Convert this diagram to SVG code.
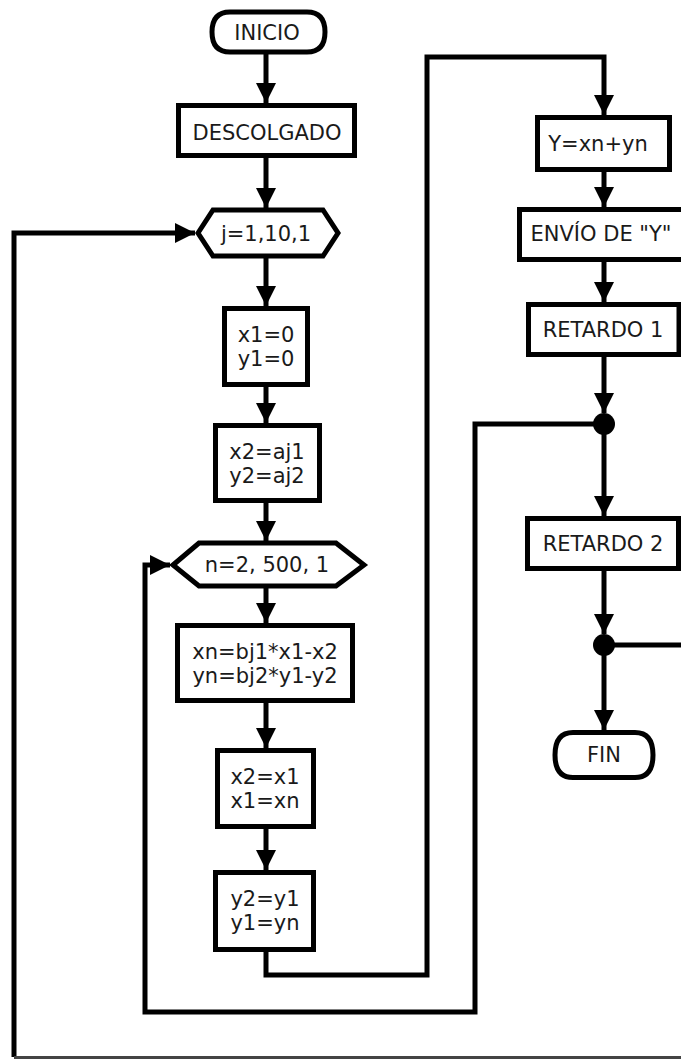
<svg xmlns="http://www.w3.org/2000/svg" width="681" height="1059" viewBox="0 0 681 1059">
<style>
.s{fill:#fff;stroke:#000;stroke-width:5}
.t{font-family:"DejaVu Sans",sans-serif;font-size:21px;fill:#1a1a1a;text-anchor:middle}
.c{fill:none;stroke:#000;stroke-width:5}
</style>
<defs>
<marker id="ah" markerUnits="userSpaceOnUse" markerWidth="20" markerHeight="20" viewBox="0 0 18 18" refX="18" refY="9" orient="auto">
<path d="M0,0 L18,9 L0,18 Z" fill="#000"/>
</marker>
</defs>
<rect width="681" height="1059" fill="#fff"/>
<g id="connectors">
<path class="c" d="M266,54 V103" marker-end="url(#ah)"/>
<path class="c" d="M266,158 V208" marker-end="url(#ah)"/>
<path class="c" d="M266,256 V306" marker-end="url(#ah)"/>
<path class="c" d="M266,387 V423" marker-end="url(#ah)"/>
<path class="c" d="M266,503 V541" marker-end="url(#ah)"/>
<path class="c" d="M266,588 V623" marker-end="url(#ah)"/>
<path class="c" d="M266,703 V748" marker-end="url(#ah)"/>
<path class="c" d="M266,829 V870" marker-end="url(#ah)"/>
<path class="c" d="M266,952 V975 H427 V57 H604 V115" marker-end="url(#ah)"/>
<path class="c" d="M604,172 V207" marker-end="url(#ah)"/>
<path class="c" d="M604,262 V302" marker-end="url(#ah)"/>
<path class="c" d="M604,357 V413" marker-end="url(#ah)"/>
<path class="c" d="M604,424 V516" marker-end="url(#ah)"/>
<path class="c" d="M604,571 V634" marker-end="url(#ah)"/>
<path class="c" d="M604,645 V730" marker-end="url(#ah)"/>
<path class="c" d="M604,645 H681"/>
<path class="c" d="M604,424 H475 V1012 H145 V565 H170" marker-end="url(#ah)"/>
<path class="c" d="M14,1057 V233 H195" marker-end="url(#ah)"/>
<path d="M14,1057.5 H681" fill="none" stroke="#444" stroke-width="3"/>
<circle cx="604" cy="424" r="11" fill="#000"/>
<circle cx="604" cy="645" r="11" fill="#000"/>
</g>
<g id="inicio">
<path class="s" d="M230,12 H307 Q325,12 325,32 Q325,52 307,52 H230 Q212,52 212,32 Q212,12 230,12 Z"/>
<text class="t" x="267" y="40">INICIO</text>
</g>
<g id="descolgado">
<rect class="s" x="178.5" y="105.5" width="176" height="50"/>
<text class="t" x="267" y="140">DESCOLGADO</text>
</g>
<g id="loop-j">
<polygon class="s" points="198,233 213,210 323,210 338,233 323,256 213,256"/>
<text class="t" x="266" y="241">j=1,10,1</text>
</g>
<g id="init-1">
<rect class="s" x="224.5" y="308.5" width="83" height="76"/>
<text class="t" x="266" y="342">x1=0</text>
<text class="t" x="266" y="366">y1=0</text>
</g>
<g id="init-2">
<rect class="s" x="215.5" y="425.5" width="104" height="75"/>
<text class="t" x="267" y="459">x2=aj1</text>
<text class="t" x="267" y="483">y2=aj2</text>
</g>
<g id="loop-n">
<polygon class="s" points="173,565 199,543 336,543 364,565 336,586 199,586"/>
<text class="t" x="267" y="572">n=2, 500, 1</text>
</g>
<g id="calc">
<rect class="s" x="177.5" y="625.5" width="175" height="75"/>
<text class="t" x="265" y="659">xn=bj1*x1-x2</text>
<text class="t" x="265" y="683">yn=bj2*y1-y2</text>
</g>
<g id="shift-x">
<rect class="s" x="217.5" y="750.5" width="96" height="76"/>
<text class="t" x="265" y="784">x2=x1</text>
<text class="t" x="265" y="808">x1=xn</text>
</g>
<g id="shift-y">
<rect class="s" x="215.5" y="872.5" width="98" height="77"/>
<text class="t" x="265" y="906">y2=y1</text>
<text class="t" x="265" y="930">y1=yn</text>
</g>
<g id="sum">
<rect class="s" x="537.5" y="117.5" width="132" height="52"/>
<text class="t" x="598" y="151">Y=xn+yn</text>
</g>
<g id="envio">
<rect class="s" x="519.5" y="209.5" width="174" height="50"/>
<text class="t" x="601" y="241">ENVÍO DE "Y"</text>
</g>
<g id="retardo1">
<rect class="s" x="528.5" y="304.5" width="150.5" height="50"/>
<text class="t" x="603" y="337">RETARDO 1</text>
</g>
<g id="retardo2">
<rect class="s" x="527.5" y="518.5" width="151" height="50"/>
<text class="t" x="603" y="551">RETARDO 2</text>
</g>
<g id="fin">
<path class="s" d="M573,732.5 H635 Q653,732.5 653,755 Q653,777.5 635,777.5 H573 Q555,777.5 555,755 Q555,732.5 573,732.5 Z"/>
<text class="t" x="604" y="762">FIN</text>
</g>
</svg>
